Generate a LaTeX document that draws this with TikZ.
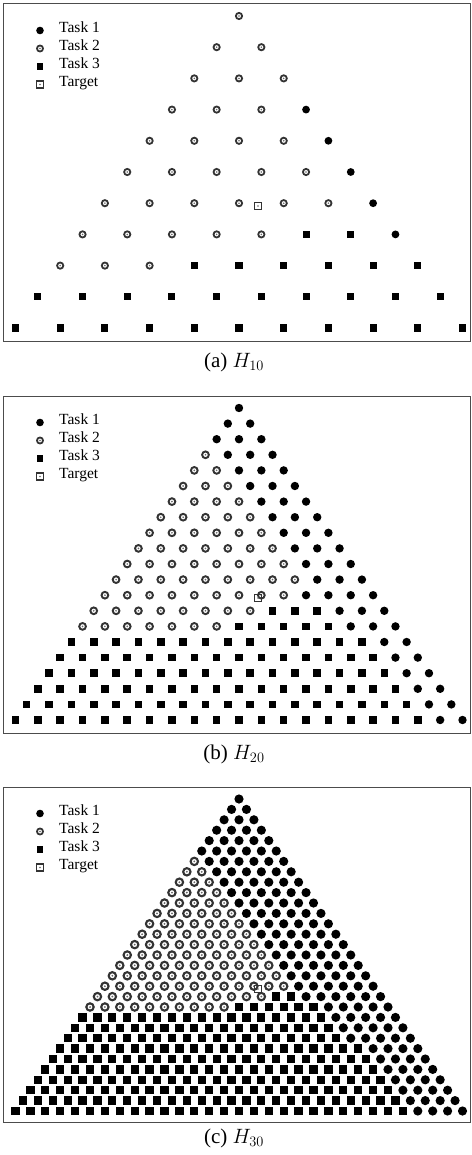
\documentclass[tikz,border=0pt]{standalone}
\usepackage{fontspec}
\setmainfont{Liberation Serif}
\usepackage{tikz}

\def\msz{8}

% triangular grid of one panel: tag, n, top of frame, marker size, rows (rings/squares/dots)
\newcommand{\gridpanel}[5]{%
  \pgfmathsetmacro{\dx}{447/#2}%
  \pgfmathsetmacro{\dy}{312/#2}%
  \def\msz{#4}%
  \foreach \nring/\nsq/\nfill [count=\row from 0] in {#5} {
    \pgfmathtruncatemacro{\nlow}{\nring+\nsq}
    \foreach \k in {0,...,\row} {
      \pgfmathsetmacro{\px}{239+(\k-\row/2)*\dx}
      \pgfmathsetmacro{\py}{#3+12+\row*\dy}
      \ifnum\k<\nring
        \node[task2] (#1-\row-\k) at (\px,\py) {};
      \else\ifnum\k<\nlow
        \node[task3] (#1-\row-\k) at (\px,\py) {};
      \else
        \node[task1] (#1-\row-\k) at (\px,\py) {};
      \fi\fi
    }
  }
  % target point
  \def\msz{8}%
  \node[target] (#1-tgt) at (258,#3+202) {};
}

% legend in the upper left corner
\newcommand{\legendbox}[2]{%
  \def\msz{7.6}%
  \node[task1] (#1-l1) at (40,#2+26.5) {};
  \node[task2] (#1-l2) at (40,#2+44.5) {};
  \node[task3] (#1-l3) at (40,#2+62.5) {};
  \node[target] (#1-l4) at (40,#2+80.5) {};
  \node[legend] (#1-t1) at (59,#2+26.5) {Task 1};
  \node[legend] (#1-t2) at (59,#2+44.5) {Task 2};
  \node[legend] (#1-t3) at (59,#2+62.5) {Task 3};
  \node[legend] (#1-t4) at (59,#2+80.5) {Target};
}

\begin{document}
\begin{tikzpicture}[x=1pt, y=-1pt,
    task1/.style={circle, fill=black, inner sep=0pt, minimum size=\msz pt},
    task2/.style={circle, draw=black!80, line width=0.23*\msz pt, fill=white, inner sep=0pt, minimum size=0.8*\msz pt,
      path picture={\fill[black!60] (path picture bounding box.center) circle (0.11*\msz pt);}},
    task3/.style={rectangle, fill=black, inner sep=0pt, minimum size=0.9*\msz pt},
    target/.style={rectangle, draw=black!80, line width=1.2pt, inner sep=0pt, minimum size=0.9*\msz pt,
      path picture={\fill[black!60] (path picture bounding box.center) circle (0.9pt);}},
    frame/.style={draw=black!70, line width=1pt},
    legend/.style={anchor=west, inner sep=0pt, text height=0.68em, text depth=0.2em, font=\fontsize{15.5}{18}\selectfont},
    caption/.style={font=\fontsize{21}{25}\selectfont}]
  \useasboundingbox (0,0) rectangle (471,1155);

  % (a) H_10
  \draw[frame] (3,4) rectangle (470,341);
  \legendbox{a}{4}
  \gridpanel{a}{10}{4}{7.8}{1/0/0, 2/0/0, 3/0/0, 3/0/1, 4/0/1, 5/0/1, 6/0/1, 5/2/1, 3/6/0, 0/10/0, 0/11/0}
  \node[caption] (capa) at (234,362) {(a) $H_{10}$};

  % (b) H_20
  \draw[frame] (3,396) rectangle (470,733);
  \legendbox{b}{396}
  \gridpanel{b}{20}{396}{8.4}{0/0/1, 0/0/2, 0/0/3, 1/0/3, 2/0/3, 3/0/3, 4/0/3, 5/0/3, 6/0/3, 7/0/3,
    8/0/3, 9/0/3, 9/0/4, 8/3/3, 7/5/3, 0/14/2, 0/15/2, 0/16/2, 0/17/2, 0/18/2, 0/19/2}
  \node[caption] (capb) at (234,754) {(b) $H_{20}$};

  % (c) H_30
  \draw[frame] (3,787) rectangle (470,1122);
  \legendbox{c}{787}
  \gridpanel{c}{30}{787}{9.2}{0/0/1, 0/0/2, 0/0/3, 0/0/4, 0/0/5, 0/0/6, 1/0/6, 2/0/6, 3/0/6, 4/0/6,
    5/0/6, 6/0/6, 7/0/6, 8/0/6, 9/0/6, 10/0/6, 11/0/6, 12/0/6, 13/0/6, 12/2/6,
    10/6/5, 0/17/5, 0/18/5, 0/19/5, 0/21/4, 0/22/4, 0/23/4, 0/24/4, 0/25/4, 0/26/4, 0/27/4}
  \node[caption] (capc) at (234,1138) {(c) $H_{30}$};
\end{tikzpicture}
\end{document}
